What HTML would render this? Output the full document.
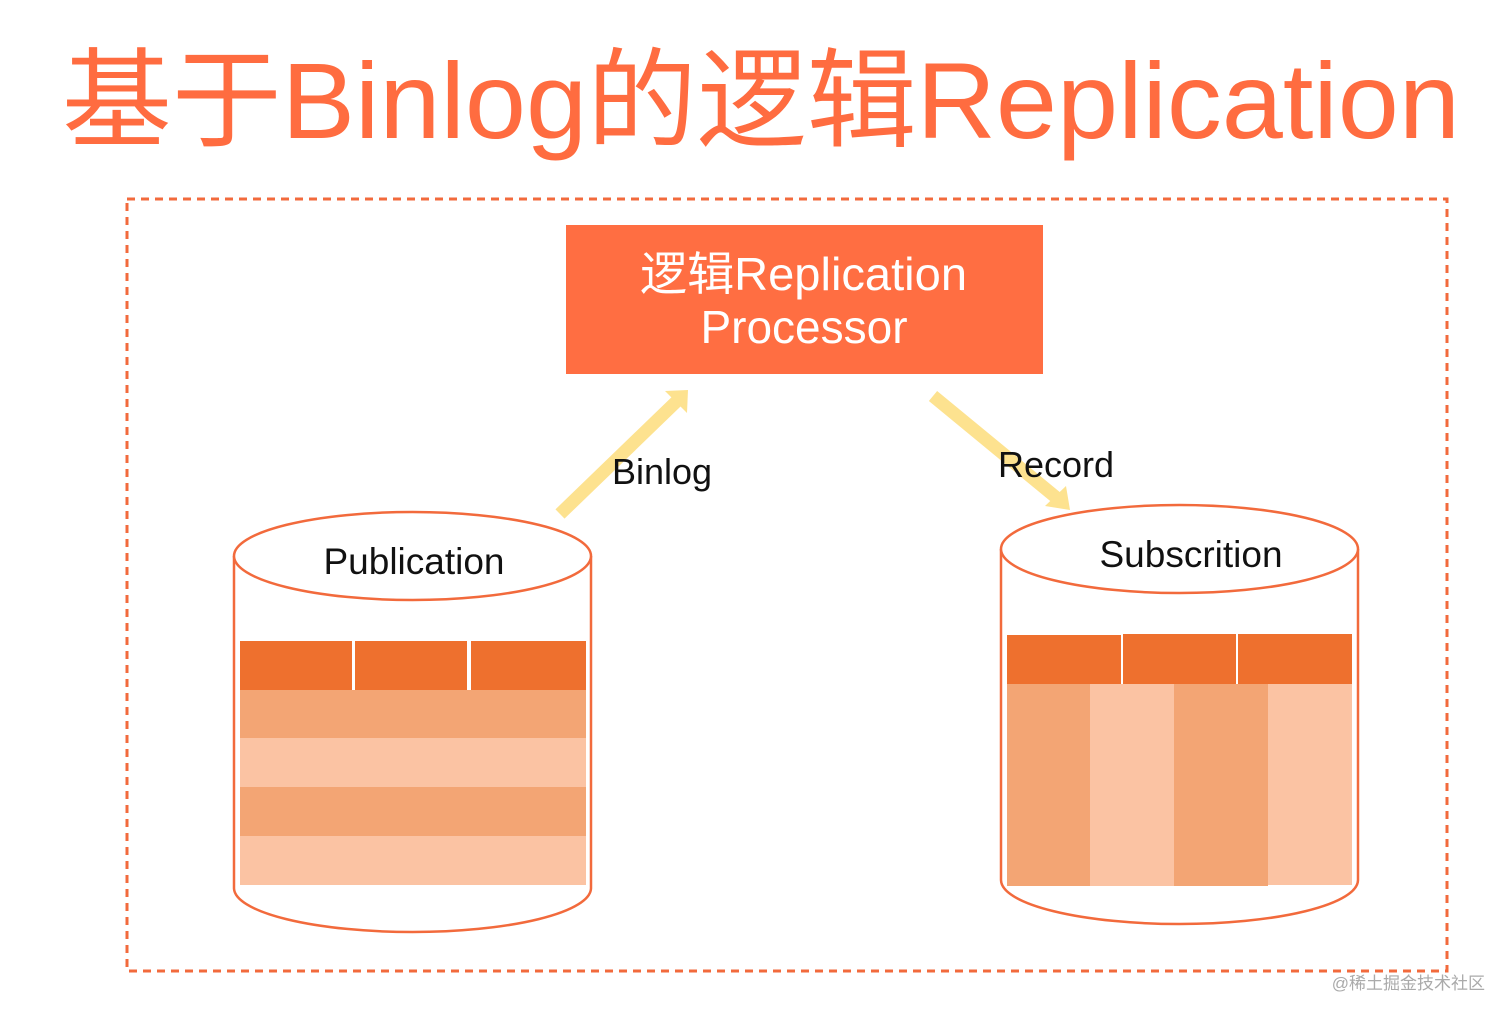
<!DOCTYPE html>
<html><head><meta charset="utf-8"><style>
html,body{margin:0;padding:0;background:#fff;width:1512px;height:1019px;overflow:hidden}
</style></head><body>
<svg width="1512" height="1019" viewBox="0 0 1512 1019" xmlns="http://www.w3.org/2000/svg">
<text x="62" y="138" font-family="Liberation Sans, Noto Sans CJK SC, sans-serif" font-size="108" fill="#FF6C40" textLength="1398" lengthAdjust="spacingAndGlyphs">基于Binlog的逻辑Replication</text>
<rect x="127" y="199" width="1320" height="772" fill="none" stroke="#F26A3C" stroke-width="3" stroke-dasharray="8,6"/>
<rect x="566" y="225" width="477" height="149" fill="#FF6E42"/>
<text x="640" y="290" font-family="Liberation Sans, Noto Sans CJK SC, sans-serif" font-size="46" fill="#fff" textLength="327" lengthAdjust="spacingAndGlyphs">逻辑Replication</text>
<text x="804" y="343" text-anchor="middle" font-family="Liberation Sans, Noto Sans CJK SC, sans-serif" font-size="46" fill="#fff">Processor</text>
<g stroke="#FDE28F" stroke-width="13" fill="#FDE28F">
<line x1="560" y1="514" x2="679" y2="399"/>
<line x1="933" y1="396" x2="1058" y2="499"/>
</g>
<polygon points="665,391 688,390 687,413" fill="#FDE28F"/>
<polygon points="1070,510 1045,506 1066,486" fill="#FDE28F"/>
<text x="612" y="484" font-family="Liberation Sans, sans-serif" font-size="36" fill="#111">Binlog</text>
<text x="998" y="477" font-family="Liberation Sans, sans-serif" font-size="36" fill="#111">Record</text>
<path d="M234,556 L234,888 A178.5,44 0 0 0 591,888 L591,556" fill="#fff" stroke="#F26A3C" stroke-width="2.5"/>
<ellipse cx="412.5" cy="556" rx="178.5" ry="44" fill="#fff" stroke="#F26A3C" stroke-width="2.5"/>
<text x="414" y="574" text-anchor="middle" font-family="Liberation Sans, sans-serif" font-size="37" fill="#111">Publication</text>
<rect x="240" y="641" width="112" height="49" fill="#EE702E"/>
<rect x="355" y="641" width="112" height="49" fill="#EE702E"/>
<rect x="471" y="641" width="115" height="49" fill="#EE702E"/>
<rect x="240" y="690" width="346" height="48" fill="#F3A574"/>
<rect x="240" y="738" width="346" height="49" fill="#FBC3A3"/>
<rect x="240" y="787" width="346" height="49" fill="#F3A574"/>
<rect x="240" y="836" width="346" height="49" fill="#FBC3A3"/>
<path d="M1001,549 L1001,880 A178.5,44 0 0 0 1358,880 L1358,549" fill="#fff" stroke="#F26A3C" stroke-width="2.5"/>
<ellipse cx="1179.5" cy="549" rx="178.5" ry="44" fill="#fff" stroke="#F26A3C" stroke-width="2.5"/>
<text x="1191" y="567" text-anchor="middle" font-family="Liberation Sans, sans-serif" font-size="37" fill="#111">Subscrition</text>
<rect x="1007" y="635" width="114" height="49" fill="#EE702E"/>
<rect x="1123" y="634" width="113" height="50" fill="#EE702E"/>
<rect x="1238" y="634" width="114" height="50" fill="#EE702E"/>
<rect x="1007" y="684" width="83" height="202" fill="#F3A574"/>
<rect x="1090" y="684" width="84" height="202" fill="#FBC3A3"/>
<rect x="1174" y="684" width="94" height="202" fill="#F3A574"/>
<rect x="1268" y="684" width="84" height="201" fill="#FBC3A3"/>
<text x="1485" y="989" text-anchor="end" font-family="Liberation Sans, Noto Sans CJK SC, sans-serif" font-size="17" fill="#aaa">@稀土掘金技术社区</text>
</svg>
</body></html>
